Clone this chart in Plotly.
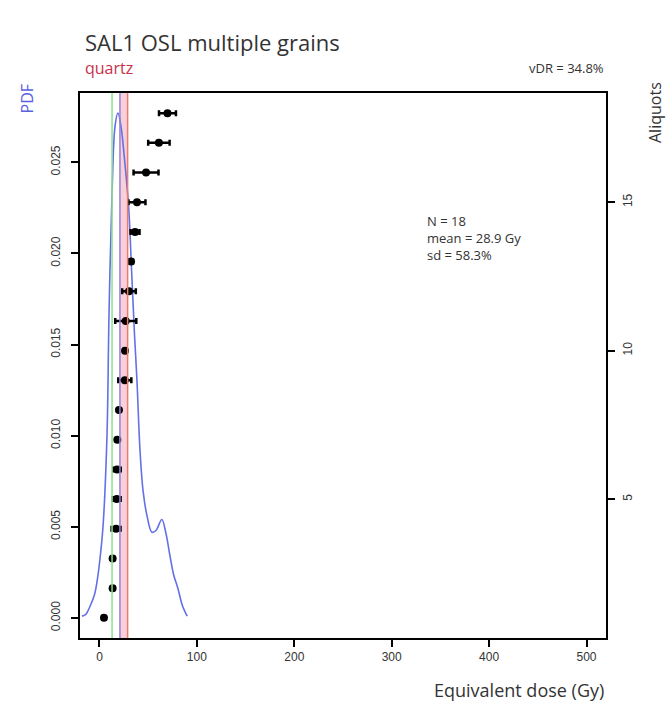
import plotly.graph_objects as go

# Aliquot data (sorted equivalent doses, Gy)
aliquot = list(range(1, 19))
ed = [4.6, 13.5, 13.5, 17.0, 17.7, 18.0, 18.3, 20.0, 26.0, 26.2, 27.0, 30.3, 32.4, 36.5, 38.5, 47.8, 61.0, 69.8]
ed_err = [1.0, 1.5, 1.5, 4.6, 4.0, 3.8, 1.5, 1.5, 6.7, 1.5, 10.8, 7.0, 2.0, 4.6, 8.7, 12.8, 11.0, 8.7]

# PDF curve
pdf_x = [-18, -14, -10, -5, -2.5, 0, 3.6, 7.7, 9.8, 12.9, 16, 19, 22, 26, 30, 33, 36, 38.5,
         41.6, 44.7, 48.8, 53.9, 58, 64, 68, 72.4, 76, 80.6, 85, 90]
pdf_y = [0.0001, 0.0002, 0.0006, 0.0013, 0.002, 0.003, 0.005, 0.010, 0.0167, 0.0233, 0.027,
         0.0277, 0.027, 0.025, 0.0225, 0.019, 0.0155, 0.013, 0.0092, 0.007, 0.0056, 0.0047,
         0.0048, 0.0054, 0.0047, 0.0034, 0.0024, 0.0016, 0.0007, 0.0001]

green_line = 12.9
band = [21.0, 28.9]
mean_line = 28.9

x_ticks = [0, 100, 200, 300, 400, 500]
pdf_ticks = [0.000, 0.005, 0.010, 0.015, 0.020, 0.025]
pdf_tick_text = ["0.000", "0.005", "0.010", "0.015", "0.020", "0.025"]
aliq_ticks = [5, 10, 15]

fig = go.Figure()

# pink band and vertical reference lines
fig.add_shape(type="rect", xref="x", yref="paper", x0=band[0], x1=band[1], y0=0, y1=1,
              fillcolor="rgba(230,120,150,0.35)", line=dict(width=0), layer="below")
fig.add_shape(type="line", xref="x", yref="paper", x0=band[0], x1=band[0], y0=0, y1=1,
              line=dict(color="#9b7fd0", width=1.5))
fig.add_shape(type="line", xref="x", yref="paper", x0=green_line, x1=green_line, y0=0, y1=1,
              line=dict(color="#8fe08f", width=1.5))
fig.add_shape(type="line", xref="x", yref="paper", x0=mean_line, x1=mean_line, y0=0, y1=1,
              line=dict(color="#f07a6a", width=1.5))

fig.add_trace(go.Scatter(x=pdf_x, y=pdf_y, mode="lines", line=dict(color="#6470e6", width=1.6, shape="spline"),
                         yaxis="y", showlegend=False, hoverinfo="skip"))

fig.add_trace(go.Scatter(x=ed, y=aliquot, mode="markers", yaxis="y2",
                         marker=dict(color="black", size=8),
                         error_x=dict(type="data", array=ed_err, color="black", thickness=2.5, width=3),
                         showlegend=False))

axis_font = dict(family="Liberation Sans, Arial, sans-serif", size=12, color="#333333")

fig.update_layout(
    width=669, height=715,
    margin=dict(l=80, r=63, t=93, b=77),
    paper_bgcolor="white", plot_bgcolor="white",
    font=dict(family="Open Sans, Liberation Sans, sans-serif", color="#333333"),
    xaxis=dict(range=[-20, 520], tickvals=x_ticks, ticks="outside", ticklen=7, tickwidth=1.5,
               tickcolor="black", showline=True, linecolor="black", linewidth=2, mirror=True,
               showgrid=False, zeroline=False, tickfont=axis_font),
    yaxis=dict(range=[-0.0011, 0.0288], tickvals=pdf_ticks, ticktext=pdf_tick_text, ticks="outside",
               ticklen=7, tickwidth=1.5, tickcolor="black", showline=True, linecolor="black",
               linewidth=2, showgrid=False, zeroline=False, tickangle=-90, tickfont=axis_font,
               ticklabelstandoff=6),
    yaxis2=dict(range=[0.32, 18.68], tickvals=aliq_ticks, overlaying="y", side="right", ticks="outside",
                ticklen=7, tickwidth=1.5, tickcolor="black", showline=True, linecolor="black",
                linewidth=2, showgrid=False, zeroline=False, tickangle=-90, tickfont=axis_font,
                ticklabelstandoff=3),
)

ann = [
    dict(text="SAL1 OSL multiple grains", x=0.005, y=1.094, xanchor="left", yanchor="middle",
         font=dict(size=22, color="#333333")),
    dict(text="quartz", x=0.005, y=1.046, xanchor="left", yanchor="middle",
         font=dict(size=16, color="#c8304a")),
    dict(text="vDR = 34.8%", x=1.0, y=1.046, xanchor="right", yanchor="middle",
         font=dict(size=13, color="#333333")),
    dict(text="PDF", x=-0.099, y=0.99, xanchor="center", yanchor="middle", textangle=-90,
         font=dict(size=16, color="#5a62e0")),
    dict(text="Aliquots", x=1.093, y=0.965, xanchor="center", yanchor="middle", textangle=-90,
         font=dict(size=16, color="#333333")),
    dict(text="N = 18<br>mean = 28.9 Gy<br>sd = 58.3%", x=0.656, y=0.785, xanchor="left", yanchor="top",
         align="left", font=dict(size=13, color="#333333")),
    dict(text="Equivalent dose (Gy)", x=1.0, y=-0.095, xanchor="right", yanchor="middle",
         font=dict(size=18, color="#333333")),
]
for a in ann:
    a.update(xref="paper", yref="paper", showarrow=False)
fig.update_layout(annotations=ann)

fig.write_html("out.html")
